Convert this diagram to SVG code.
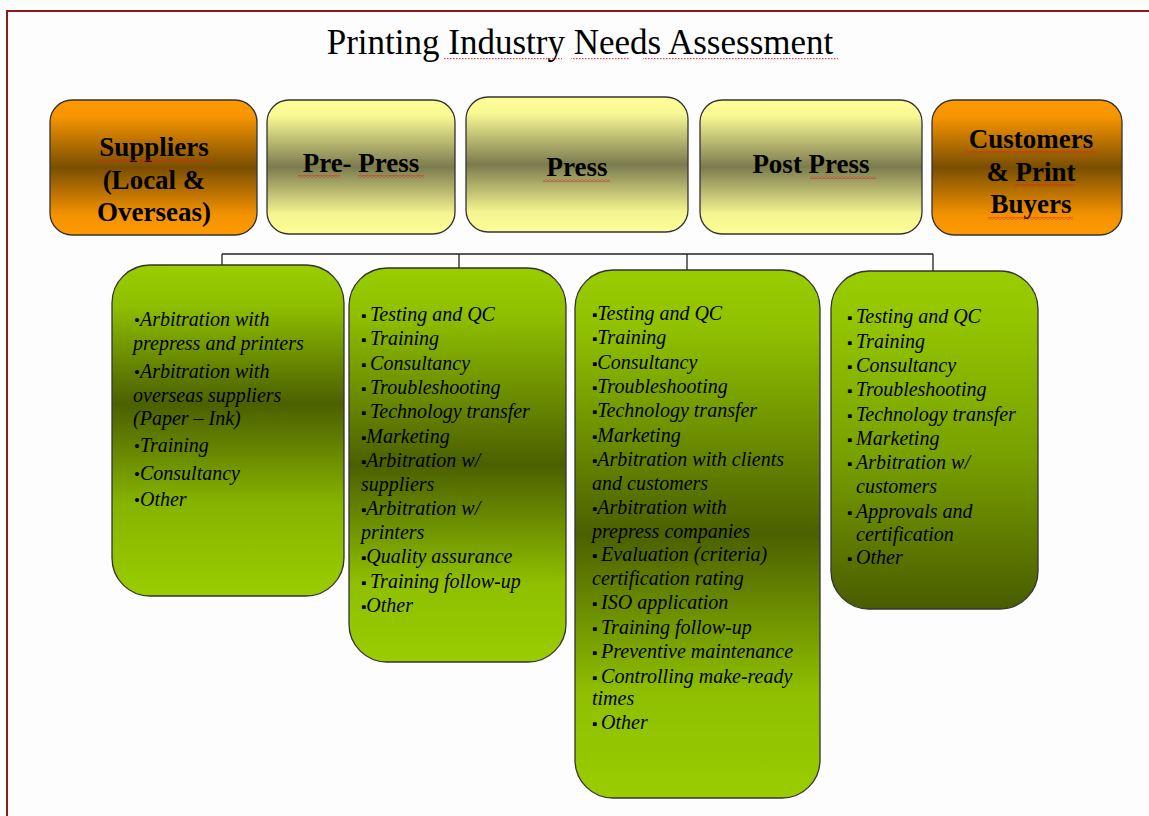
<svg xmlns="http://www.w3.org/2000/svg" width="1149" height="816" viewBox="0 0 1149 816">
<defs>
<linearGradient id="gOrange" x1="0" y1="0" x2="0" y2="1">
<stop offset="0" stop-color="#ff9a00"/><stop offset="0.12" stop-color="#f79500"/><stop offset="0.5" stop-color="#7a4e00"/><stop offset="0.85" stop-color="#f39200"/><stop offset="1" stop-color="#ff9a00"/>
</linearGradient>
<linearGradient id="gYellow" x1="0" y1="0" x2="0" y2="1">
<stop offset="0" stop-color="#ffff99"/><stop offset="0.12" stop-color="#f8f894"/><stop offset="0.5" stop-color="#7b7b4e"/><stop offset="0.85" stop-color="#f4f490"/><stop offset="1" stop-color="#ffff99"/>
</linearGradient>
<linearGradient id="gGreenA" x1="0" y1="0" x2="0" y2="1">
<stop offset="0" stop-color="#9acd00"/><stop offset="0.12" stop-color="#8fbf00"/><stop offset="0.42" stop-color="#4b6000"/><stop offset="0.72" stop-color="#86b300"/><stop offset="1" stop-color="#9acd00"/>
</linearGradient>
<linearGradient id="gGreenB" x1="0" y1="0" x2="0" y2="1">
<stop offset="0" stop-color="#9acd00"/><stop offset="0.12" stop-color="#8fbf00"/><stop offset="0.5" stop-color="#4b6000"/><stop offset="0.8" stop-color="#8fbf00"/><stop offset="1" stop-color="#9acd00"/>
</linearGradient>
<linearGradient id="gGreenD" x1="0" y1="0" x2="0" y2="1">
<stop offset="0" stop-color="#9acd00"/><stop offset="0.15" stop-color="#93c400"/><stop offset="0.55" stop-color="#78a000"/><stop offset="1" stop-color="#4a5c00"/>
</linearGradient>
<pattern id="wave" width="4" height="3" patternUnits="userSpaceOnUse">
<path d="M0 0.6 L2 2.4 L4 0.6" fill="none" stroke="#e02020" stroke-width="0.8"/>
</pattern>
<pattern id="dots" width="3" height="2" patternUnits="userSpaceOnUse">
<rect x="0" y="0" width="1.5" height="1.2" fill="#e04040"/>
</pattern>
</defs>
<style>
.title{font-family:"Liberation Serif","Times New Roman",serif;font-size:35px;fill:#000}
.head{font-family:"Liberation Serif","Times New Roman",serif;font-size:27px;font-weight:bold;fill:#000}
.box{stroke:#333;stroke-width:1.3}
.item{font-family:"Liberation Serif","Times New Roman",serif;font-size:20px;font-style:italic;fill:#000}
.b{font-style:normal;font-size:17px}
.s{font-style:normal;font-size:15px}
.conn{fill:none;stroke:#222;stroke-width:1.3}
</style>
<rect x="0" y="0" width="1149" height="816" fill="#fdfdfd"/>
<path d="M7 816 V11 H1149" fill="none" stroke="#8b1a1a" stroke-width="2"/>

<g id="title">
<text class="title" x="580" y="54" text-anchor="middle">Printing Industry Needs Assessment</text>
<rect x="444" y="58" width="118" height="2" fill="url(#dots)"/>
<rect x="571" y="58" width="58" height="2" fill="url(#dots)"/>
<rect x="643" y="58" width="195" height="2" fill="url(#dots)"/>
</g>

<g id="connectors">
<path class="conn" d="M222 254 H933 M222 254 V266 M459 254 V268 M687 254 V270 M933 254 V272"/>
</g>

<g id="suppliers">
<rect class="box" x="50" y="100" width="207" height="135" rx="22" fill="url(#gOrange)"/>
<text class="head" x="154" y="156" text-anchor="middle">Suppliers</text>
<text class="head" x="154" y="189" text-anchor="middle">(Local &amp;</text>
<text class="head" x="154" y="221" text-anchor="middle">Overseas)</text>
<rect x="97" y="159" width="115" height="3" fill="url(#wave)"/>
</g>

<g id="prepress">
<rect class="box" x="267" y="100" width="188" height="134" rx="22" fill="url(#gYellow)"/>
<text class="head" x="361" y="172" text-anchor="middle">Pre- Press</text>
<rect x="298" y="175" width="42" height="3" fill="url(#wave)"/>
<rect x="358" y="175" width="66" height="3" fill="url(#wave)"/>
</g>

<g id="press">
<rect class="box" x="466" y="97" width="222" height="135" rx="22" fill="url(#gYellow)"/>
<text class="head" x="577" y="176" text-anchor="middle">Press</text>
<rect x="543" y="179" width="67" height="3" fill="url(#wave)"/>
</g>

<g id="postpress">
<rect class="box" x="700" y="100" width="222" height="134" rx="22" fill="url(#gYellow)"/>
<text class="head" x="811" y="173" text-anchor="middle">Post Press</text>
<rect x="810" y="176" width="66" height="3" fill="url(#wave)"/>
</g>

<g id="customers">
<rect class="box" x="932" y="100" width="190" height="135" rx="22" fill="url(#gOrange)"/>
<text class="head" x="1031" y="148" text-anchor="middle">Customers</text>
<text class="head" x="1031" y="181" text-anchor="middle">&amp; Print</text>
<text class="head" x="1031" y="213" text-anchor="middle">Buyers</text>
<rect x="966" y="151" width="131" height="3" fill="url(#wave)"/>
<rect x="1015" y="184" width="60" height="3" fill="url(#wave)"/>
<rect x="988" y="217" width="85" height="3" fill="url(#wave)"/>
</g>

<g id="suppliers-needs">
<rect class="box" x="112" y="265" width="232" height="331" rx="38" fill="url(#gGreenA)"/>
<text class="item" x="134" y="326"><tspan class="b">•</tspan>Arbitration with</text>
<text class="item" x="133" y="350">prepress and printers</text>
<text class="item" x="134" y="378"><tspan class="b">•</tspan>Arbitration with</text>
<text class="item" x="133" y="402">overseas suppliers</text>
<text class="item" x="133" y="425">(Paper – Ink)</text>
<text class="item" x="134" y="452"><tspan class="b">•</tspan>Training</text>
<text class="item" x="134" y="480"><tspan class="b">•</tspan>Consultancy</text>
<text class="item" x="134" y="506"><tspan class="b">•</tspan>Other</text>
</g>

<g id="prepress-needs">
<rect class="box" x="349" y="268" width="217" height="394" rx="38" fill="url(#gGreenB)"/>
<text class="item" x="361" y="321"><tspan class="s">▪ </tspan>Testing and QC</text>
<text class="item" x="361" y="345"><tspan class="s">▪ </tspan>Training</text>
<text class="item" x="361" y="370"><tspan class="s">▪ </tspan>Consultancy</text>
<text class="item" x="361" y="394"><tspan class="s">▪ </tspan>Troubleshooting</text>
<text class="item" x="361" y="418"><tspan class="s">▪ </tspan>Technology transfer</text>
<text class="item" x="361" y="443"><tspan class="s">▪</tspan>Marketing</text>
<text class="item" x="361" y="467"><tspan class="s">▪</tspan>Arbitration w/</text>
<text class="item" x="361" y="491">suppliers</text>
<text class="item" x="361" y="515"><tspan class="s">▪</tspan>Arbitration w/</text>
<text class="item" x="361" y="539">printers</text>
<text class="item" x="361" y="563"><tspan class="s">▪</tspan>Quality assurance</text>
<text class="item" x="361" y="588"><tspan class="s">▪ </tspan>Training follow-up</text>
<text class="item" x="361" y="612"><tspan class="s">▪</tspan>Other</text>
</g>

<g id="press-needs">
<rect class="box" x="575" y="270" width="245" height="528" rx="38" fill="url(#gGreenB)"/>
<text class="item" x="592" y="320"><tspan class="s">▪</tspan>Testing and QC</text>
<text class="item" x="592" y="344"><tspan class="s">▪</tspan>Training</text>
<text class="item" x="592" y="369"><tspan class="s">▪</tspan>Consultancy</text>
<text class="item" x="592" y="393"><tspan class="s">▪</tspan>Troubleshooting</text>
<text class="item" x="592" y="417"><tspan class="s">▪</tspan>Technology transfer</text>
<text class="item" x="592" y="442"><tspan class="s">▪</tspan>Marketing</text>
<text class="item" x="592" y="466"><tspan class="s">▪</tspan>Arbitration with clients</text>
<text class="item" x="592" y="490">and customers</text>
<text class="item" x="592" y="514"><tspan class="s">▪</tspan>Arbitration with</text>
<text class="item" x="592" y="538">prepress companies</text>
<text class="item" x="592" y="561"><tspan class="s">▪ </tspan>Evaluation (criteria)</text>
<text class="item" x="592" y="585">certification rating</text>
<text class="item" x="592" y="609"><tspan class="s">▪ </tspan>ISO application</text>
<text class="item" x="592" y="634"><tspan class="s">▪ </tspan>Training follow-up</text>
<text class="item" x="592" y="658"><tspan class="s">▪ </tspan>Preventive maintenance</text>
<text class="item" x="592" y="683"><tspan class="s">▪ </tspan>Controlling make-ready</text>
<text class="item" x="592" y="705">times</text>
<text class="item" x="592" y="729"><tspan class="s">▪ </tspan>Other</text>
</g>

<g id="postpress-needs">
<rect class="box" x="831" y="271" width="207" height="338" rx="38" fill="url(#gGreenD)"/>
<text class="item" x="847" y="323"><tspan class="s">▪ </tspan>Testing and QC</text>
<text class="item" x="847" y="348"><tspan class="s">▪ </tspan>Training</text>
<text class="item" x="847" y="372"><tspan class="s">▪ </tspan>Consultancy</text>
<text class="item" x="847" y="396"><tspan class="s">▪ </tspan>Troubleshooting</text>
<text class="item" x="847" y="421"><tspan class="s">▪ </tspan>Technology transfer</text>
<text class="item" x="847" y="445"><tspan class="s">▪ </tspan>Marketing</text>
<text class="item" x="847" y="469"><tspan class="s">▪ </tspan>Arbitration w/</text>
<text class="item" x="856" y="493">customers</text>
<text class="item" x="847" y="518"><tspan class="s">▪ </tspan>Approvals and</text>
<text class="item" x="856" y="541">certification</text>
<text class="item" x="847" y="564"><tspan class="s">▪ </tspan>Other</text>
</g>
</svg>
